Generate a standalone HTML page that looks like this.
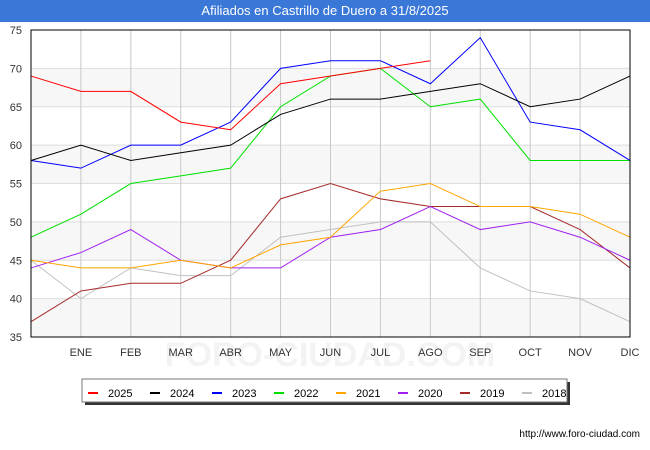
<!DOCTYPE html>
<html><head><meta charset="utf-8"><style>
body{margin:0;width:650px;height:450px;background:#fff;font-family:"Liberation Sans",sans-serif;overflow:hidden}
#title{position:absolute;left:0;top:0;width:650px;height:22px;background:#3a78d8;color:#fff;font-size:13px;text-align:center;line-height:22px}
</style></head><body>
<div id="title">Afiliados en Castrillo de Duero a 31/8/2025</div>
<svg id="chart" width="650" height="450" style="position:absolute;left:0;top:0"></svg>
<script>
const categories=["","ENE","FEB","MAR","ABR","MAY","JUN","JUL","AGO","SEP","OCT","NOV","DIC"];
const yTicks=[35,40,45,50,55,60,65,70,75];
const seriesNames=["2025","2024","2023","2022","2021","2020","2019","2018"];
const seriesColors=["#ff0000","#000000","#0000ff","#00e000","#ffa500","#a020f0","#a52a2a","#c0c0c0"];
const s2025=[69,67,67,63,62,68,69,70,71];
const s2024=[58,60,58,59,60,64,66,66,67,68,65,66,69];
const s2023=[58,57,60,60,63,70,71,71,68,74,63,62,58];
const s2022=[48,51,55,56,57,65,69,70,65,66,58,58,58];
const s2021=[45,44,44,45,44,47,48,54,55,52,52,51,48];
const s2020=[44,46,49,45,44,44,48,49,52,49,50,48,45];
const s2019=[37,41,42,42,45,53,55,53,52,52,52,49,44];
const s2018=[45,40,44,43,43,48,49,50,50,44,41,40,37];
const allSeries=[s2025,s2024,s2023,s2022,s2021,s2020,s2019,s2018];
const X0=31,X1=630,Y0=337,Y1=30,ymin=35,ymax=75;
const xs=i=>X0+(X1-X0)*i/(categories.length-1);
const ys=v=>Y0-(Y0-Y1)*(v-ymin)/(ymax-ymin);
const svg=document.getElementById('chart');const NS="http://www.w3.org/2000/svg";
function mk(t,a){const e=document.createElementNS(NS,t);for(const k in a)e.setAttribute(k,a[k]);svg.appendChild(e);return e;}
const wm=mk('text',{x:330,y:366,'text-anchor':'middle','font-size':'34',fill:'#f3f3f3','font-weight':'bold'});wm.textContent="FORO-CIUDAD.COM";


for(let i=0;i<yTicks.length-1;i++){if(i%2===0){const r=mk('rect',{x:X0,y:ys(yTicks[i+1]),width:X1-X0,height:ys(yTicks[i])-ys(yTicks[i+1]),fill:'#f7f7f7'});

}}
yTicks.forEach(v=>{const l=mk('line',{x1:X0,x2:X1,y1:ys(v),y2:ys(v),stroke:'#dddddd'});


const t=mk('text',{x:X0-9,y:ys(v)+4,'text-anchor':'end','font-size':'11',fill:'#333'});t.textContent=v;

});
categories.forEach((c,i)=>{if(i>0){const l=mk('line',{x1:xs(i),x2:xs(i),y1:Y1,y2:Y0,stroke:'#c8c8c8'});

}
const t=mk('text',{x:xs(i),y:356,'text-anchor':'middle','font-size':'11',fill:'#333'});t.textContent=c;

});
for(let s=allSeries.length-1;s>=0;s--){const d=allSeries[s].map((v,i)=>xs(i)+','+ys(v)).join(' ');
const p=mk('polyline',{points:d,fill:'none',stroke:seriesColors[s],'stroke-width':'1'});

}
const fr=mk('rect',{x:X0,y:Y1,width:X1-X0,height:Y0-Y1,fill:'none',stroke:'#000'});


mk('rect',{x:85,y:382,width:485,height:23,fill:'#333'});
const lg=mk('rect',{x:82,y:379,width:485,height:23,fill:'#fff',stroke:'#777'});


seriesNames.forEach((n,i)=>{const x=88+i*62;
const l=mk('line',{x1:x,x2:x+10,y1:393,y2:393,stroke:seriesColors[i],'stroke-width':'2'});


const t=mk('text',{x:x+20,y:397,'font-size':'11',fill:'#000'});t.textContent=n;

});
const u=mk('text',{x:640,y:437,'text-anchor':'end','font-size':'10',fill:'#000'});u.textContent="http://www.foro-ciudad.com";


</script>
</body></html>
